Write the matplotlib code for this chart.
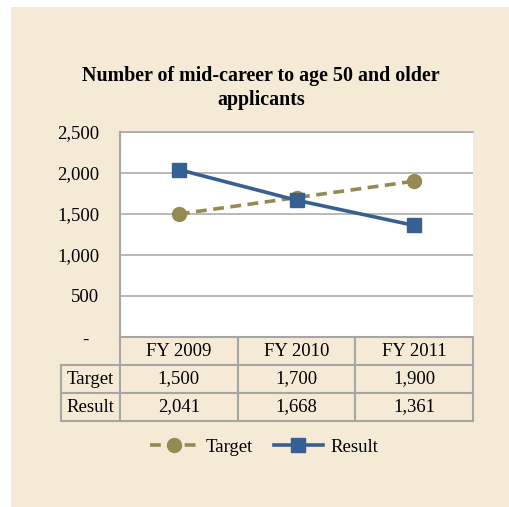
import matplotlib
matplotlib.use("Agg")
import matplotlib.pyplot as plt
from matplotlib.patches import Rectangle
from matplotlib.table import Table
from matplotlib.ticker import FuncFormatter

categories = ["FY 2009", "FY 2010", "FY 2011"]
target = [1500, 1700, 1900]
result = [2041, 1668, 1361]
series_names = ["Target", "Result"]
title = "Number of mid-career to age 50 and older\napplicants"
yticks = [0, 500, 1000, 1500, 2000, 2500]

BG = "#F5EAD6"
GRID = "#A6A6A6"
C_T = "#948A54"
C_R = "#366092"
FONT = "Liberation Serif"
FS = 13.5

plt.rcParams["font.family"] = [FONT, "DejaVu Serif"]

fig = plt.figure(figsize=(5.09, 5.07), dpi=100)
fig.patch.set_facecolor("white")
fig.patches.append(Rectangle((11 / 509, 0), 1 - 11 / 509, 1 - 7 / 507,
                             transform=fig.transFigure, facecolor=BG,
                             edgecolor="none", zorder=-10))

ax = fig.add_axes([120 / 509, 1 - 337 / 507, 353 / 509, 205 / 507])
ax.set_facecolor("white")
x = list(range(len(categories)))
ax.plot(x, target, color=C_T, lw=2.6, dashes=(3, 1.8), marker="o", ms=10,
        label=series_names[0], zorder=3)
ax.plot(x, result, color=C_R, lw=2.6, marker="s", ms=10,
        label=series_names[1], zorder=4)
ax.set_xlim(-0.5, len(categories) - 0.5)
ax.set_ylim(0, 2500)
ax.set_yticks(yticks)
ax.yaxis.set_major_formatter(FuncFormatter(lambda v, p: "-  " if v == 0 else f"{int(v):,}"))
ax.set_xticks([])
ax.tick_params(axis="y", length=0, pad=15, labelsize=FS, labelcolor="black")
ax.grid(axis="y", color=GRID, lw=1.1)
for s in ["right", "bottom"]:
    ax.spines[s].set_visible(False)
ax.spines["top"].set_color(GRID)
ax.spines["top"].set_linewidth(1.1)
ax.spines["left"].set_color(GRID)
ax.spines["left"].set_linewidth(1.5)

# data table
tbl = Table(ax, bbox=[-59 / 353, -84 / 205, 412 / 353, 84 / 205])
rows = [series_names[0], series_names[1]]
vals = [target, result]
for j, c in enumerate(categories):
    tbl.add_cell(0, j + 1, width=118, height=1, text=c, loc="center",
                 facecolor=BG, edgecolor=GRID)
for i, (name, v) in enumerate(zip(rows, vals)):
    tbl.add_cell(i + 1, 0, width=59, height=1, text=name, loc="center",
                 facecolor=BG, edgecolor=GRID)
    for j, val in enumerate(v):
        tbl.add_cell(i + 1, j + 1, width=118, height=1, text=f"{val:,}",
                     loc="center", facecolor=BG, edgecolor=GRID)
tbl.auto_set_font_size(False)
tbl.set_fontsize(FS)
for cell in tbl.get_celld().values():
    cell.set_linewidth(1.5)
    cell.get_text().set_fontfamily(FONT)
ax.add_table(tbl)

fig.text(261 / 509, 1 - 88 / 507, title, ha="center", va="center",
         fontsize=14.4, fontweight="bold", linespacing=1.2)

fig.legend(loc="center", bbox_to_anchor=(264 / 509, 1 - 447 / 507),
           ncol=2, frameon=False, fontsize=FS, handlelength=2.6,
           handletextpad=0.4, columnspacing=1.1)

fig.savefig("out.png", dpi=100, facecolor=fig.get_facecolor())
